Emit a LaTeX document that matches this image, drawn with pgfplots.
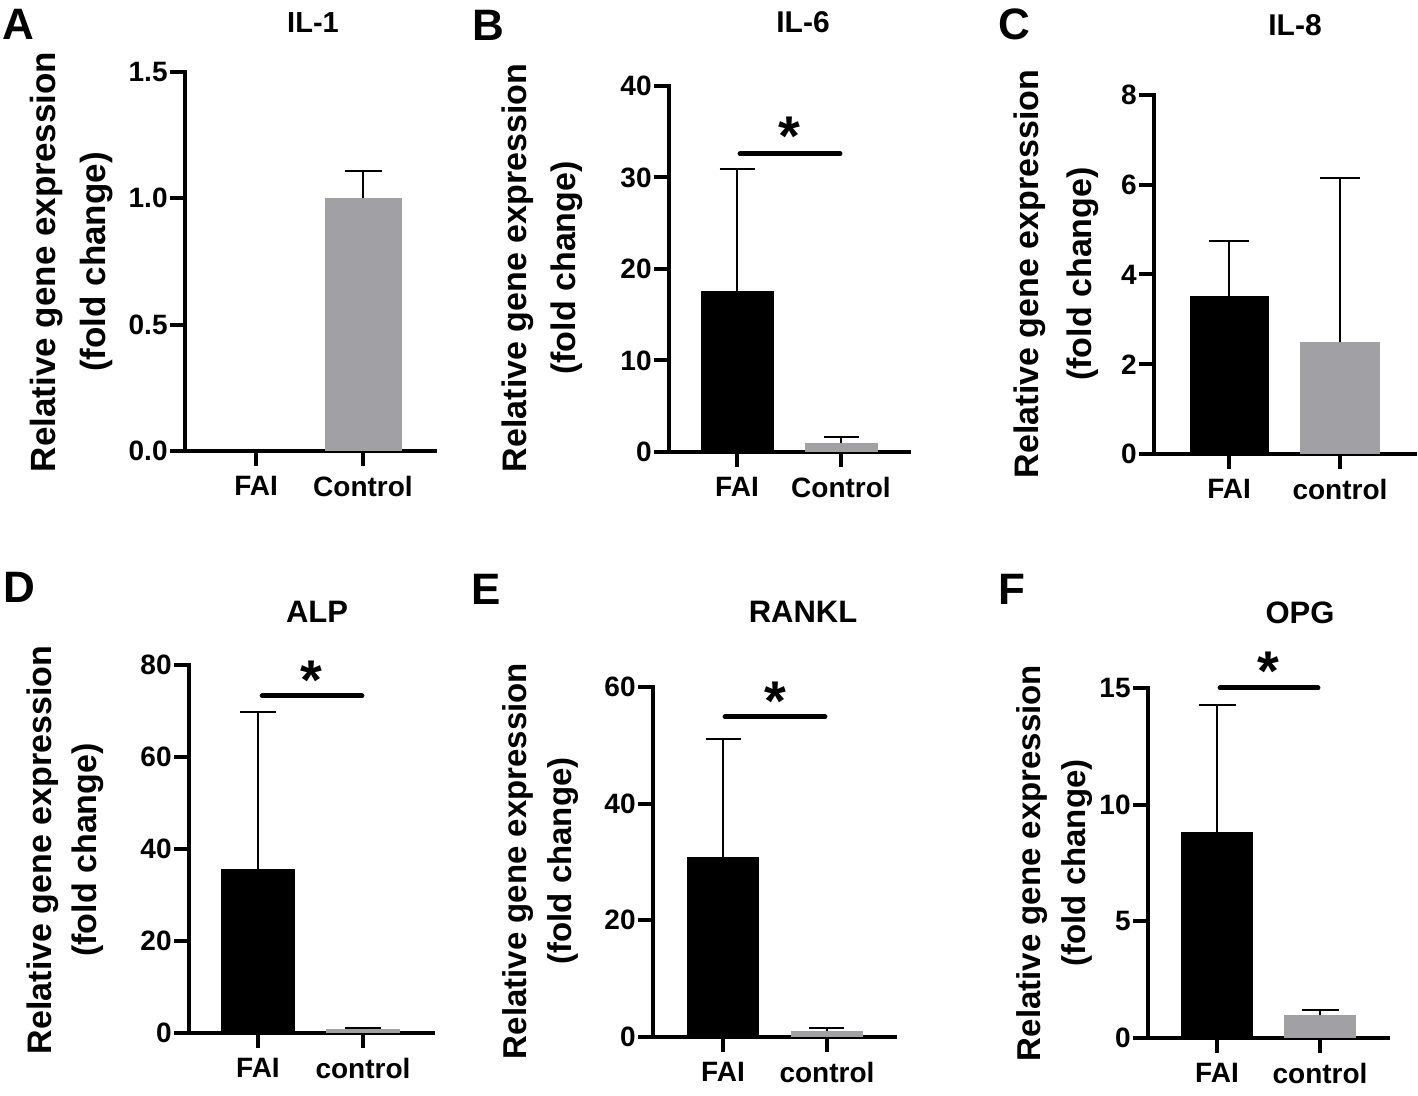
\documentclass[border=0pt]{standalone}
\usepackage{fontspec}
\setmainfont{Liberation Sans}
\usepackage{pgfplots}
\pgfplotsset{compat=1.18}
\definecolor{bargray}{RGB}{160,160,165}
\pgfplotsset{
  panel/.style={
    scale only axis,
    anchor=south west,
    axis x line*=bottom, axis y line*=left,
    axis line style={line width=2pt, line cap=rect},
    tick align=outside, tick pos=left,
    major tick length=7.5pt,
    major tick style={line width=2pt, black},
    xtick={0,1},
    ymin=0,
    clip=false,
    tick label style={font=\bfseries\fontsize{14}{16}\selectfont},
    yticklabel style={inner sep=1pt},
    xticklabel style={inner sep=0pt, yshift=-5pt},
    /pgf/number format/assume math mode=true,
  },
  blackbar/.style={ybar, bar shift=0pt, fill=black, draw=none,
    error bars/.cd, y dir=plus, y explicit,
    error bar style={line width=1pt, black},
    error mark options={rotate=90, mark size=#1, line width=1pt, black}},
  graybar/.style={ybar, bar shift=0pt, fill=bargray, draw=none,
    error bars/.cd, y dir=plus, y explicit,
    error bar style={line width=1pt, black},
    error mark options={rotate=90, mark size=#1, line width=1pt, black}},
  sig/.style={line width=2.5pt, line cap=round, black},
}
\newcommand{\ttl}[1]{\bfseries\fontsize{#1}{#1}\selectfont}
\tikzset{star/.style={font=\ttl{28}, yshift=-4pt, inner sep=0pt}}
\begin{document}
\begin{tikzpicture}
\path[use as bounding box] (0,0) rectangle (709pt,548pt);

% ---------- A : IL-1
\begin{axis}[panel, at={(92.5pt,322.5pt)}, width=125pt, height=189.5pt,
  xmin=-0.664, xmax=1.673, ymax=1.5,
  xticklabels={FAI,Control},
  ytick={0,0.5,1,1.5}, yticklabels={0.0,0.5,1.0,1.5}]
\addplot[bar width=38.5pt, graybar=9.25pt] coordinates {(1,1.0) +- (0,0.11)};
\end{axis}

% ---------- B : IL-6
\begin{axis}[panel, at={(334.5pt,322pt)}, width=120pt, height=183pt,
  xmin=-0.654, xmax=1.654, ymax=40,
  xticklabels={FAI,Control},
  ytick={0,10,20,30,40}, yticklabels={0,10,20,30,40}]
\addplot[bar width=36.5pt, blackbar=8.75pt] coordinates {(0,17.6) +- (0,13.3)};
\addplot[bar width=36.5pt, graybar=8.75pt] coordinates {(1,1.0) +- (0,0.6)};
\addplot[sig] coordinates {(0.03,32.6) (0.99,32.6)};
\node[star] at (axis cs:0.5,35.4) {*};
\end{axis}

% ---------- C : IL-8
\begin{axis}[panel, at={(577pt,321pt)}, width=130.5pt, height=179.5pt,
  xmin=-0.676, xmax=1.676, ymax=8,
  xticklabels={FAI,control},
  ytick={0,2,4,6,8}, yticklabels={0,2,4,6,8}]
\addplot[bar width=39.5pt, blackbar=10pt] coordinates {(0,3.52) +- (0,1.22)};
\addplot[bar width=39.5pt, graybar=10pt] coordinates {(1,2.49) +- (0,3.66)};
\end{axis}

% ---------- D : ALP
\begin{axis}[panel, at={(94.5pt,31.5pt)}, width=122pt, height=184pt,
  xmin=-0.657, xmax=1.667, ymax=80,
  xticklabels={FAI,control},
  ytick={0,20,40,60,80}, yticklabels={0,20,40,60,80}]
\addplot[bar width=37pt, blackbar=9pt] coordinates {(0,35.7) +- (0,34.1)};
\addplot[bar width=37pt, graybar=9pt] coordinates {(1,0.8) +- (0,0.25)};
\addplot[sig] coordinates {(0.04,73.3) (0.99,73.3)};
\node[star] at (axis cs:0.51,78.5) {*};
\end{axis}

% ---------- E : RANKL
\begin{axis}[panel, at={(326.5pt,29.5pt)}, width=121pt, height=175pt,
  xmin=-0.673, xmax=1.654, ymax=60,
  xticklabels={FAI,control},
  ytick={0,20,40,60}, yticklabels={0,20,40,60}]
\addplot[bar width=36pt, blackbar=8.75pt] coordinates {(0,30.9) +- (0,20.2)};
\addplot[bar width=36pt, graybar=8.75pt] coordinates {(1,1.0) +- (0,0.5)};
\addplot[sig] coordinates {(0.02,54.9) (0.98,54.9)};
\node[star] at (axis cs:0.5,59.0) {*};
\end{axis}

% ---------- F : OPG
\begin{axis}[panel, at={(574pt,29pt)}, width=120pt, height=175pt,
  xmin=-0.67, xmax=1.66, ymax=15,
  xticklabels={FAI,control},
  ytick={0,5,10,15}, yticklabels={0,5,10,15}]
\addplot[bar width=36pt, blackbar=9.25pt] coordinates {(0,8.83) +- (0,5.44)};
\addplot[bar width=36pt, graybar=9.25pt] coordinates {(1,0.99) +- (0,0.22)};
\addplot[sig] coordinates {(0.03,15.0) (0.98,15.0)};
\node[star] at (axis cs:0.5,16.07) {*};
\end{axis}

% ---------- titles
\node[font=\ttl{14.5}] at (156.5pt,536.5pt) {IL-1};
\node[font=\ttl{15}] at (401.5pt,537pt) {IL-6};
\node[font=\ttl{15}] at (647.5pt,535.5pt) {IL-8};
\node[font=\ttl{15.5}] at (158.5pt,242pt) {ALP};
\node[font=\ttl{15.5}] at (401.5pt,242pt) {RANKL};
\node[font=\ttl{15.5}] at (650pt,241.5pt) {OPG};

% ---------- panel letters
\node[font=\ttl{22}] at (9pt,536pt) {A};
\node[font=\ttl{22}] at (244pt,535.5pt) {B};
\node[font=\ttl{22}] at (507pt,536pt) {C};
\node[font=\ttl{22}] at (9.5pt,254.5pt) {D};
\node[font=\ttl{22}] at (243pt,253.5pt) {E};
\node[font=\ttl{22}] at (506pt,253.5pt) {F};

% ---------- y labels
\node[rotate=90, font=\ttl{17.5}, inner sep=0pt] at (23.5pt,417pt) {Relative gene expression};
\node[rotate=90, font=\ttl{17.5}, inner sep=0pt] at (48.5pt,417pt) {(fold change)};
\node[rotate=90, font=\ttl{17}, inner sep=0pt] at (259pt,414pt) {Relative gene expression};
\node[rotate=90, font=\ttl{17}, inner sep=0pt] at (283.5pt,414pt) {(fold change)};
\node[rotate=90, font=\ttl{17}, inner sep=0pt] at (515pt,411pt) {Relative gene expression};
\node[rotate=90, font=\ttl{17}, inner sep=0pt] at (541.5pt,411pt) {(fold change)};
\node[rotate=90, font=\ttl{17}, inner sep=0pt] at (21.5pt,123pt) {Relative gene expression};
\node[rotate=90, font=\ttl{17}, inner sep=0pt] at (44pt,123pt) {(fold change)};
\node[rotate=90, font=\ttl{16.5}, inner sep=0pt] at (259pt,117.5pt) {Relative gene expression};
\node[rotate=90, font=\ttl{16.5}, inner sep=0pt] at (281.5pt,117.5pt) {(fold change)};
\node[rotate=90, font=\ttl{16.5}, inner sep=0pt] at (516pt,116.5pt) {Relative gene expression};
\node[rotate=90, font=\ttl{16.5}, inner sep=0pt] at (538.5pt,116.5pt) {(fold change)};
\end{tikzpicture}
\end{document}
